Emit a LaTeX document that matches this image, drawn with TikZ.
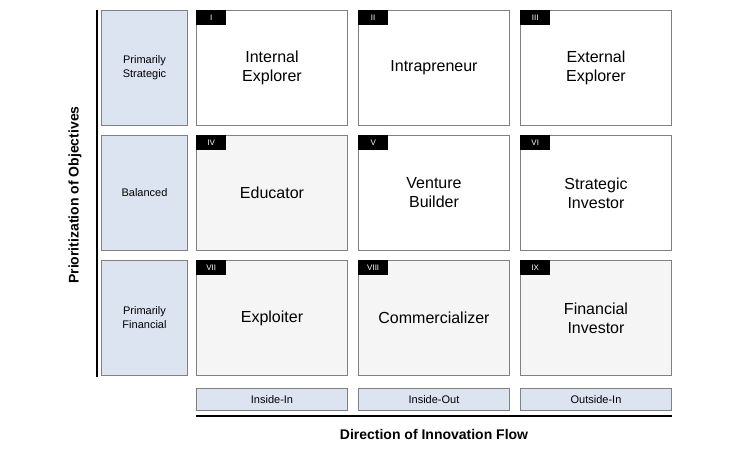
\documentclass[tikz,border=0pt]{standalone}
\usepackage{fontspec}
\setmainfont{Liberation Sans}
\begin{document}
\begin{tikzpicture}[x=1pt,y=-1pt,
 cell/.style={draw=black!50,line width=1pt,fill=white,minimum width=151pt,minimum height=115pt,anchor=north west,inner sep=0pt,font=\fontsize{16}{19}\selectfont,align=center},
 shaded/.style={cell,fill=black!4},
 lab/.style={draw=black!50,line width=1pt,fill=blue!20!black!3!white,fill={rgb,255:red,220;green,227;blue,241},anchor=north west,inner sep=0pt,align=center,font=\fontsize{11}{14}\selectfont},
 tag/.style={fill=black,text=white,anchor=north west,minimum width=30pt,minimum height=15pt,inner sep=0pt,font=\fontsize{8}{9}\selectfont}]
\useasboundingbox (0,0) rectangle (750,450);
\draw[line width=2pt] (97,10) coordinate (a1) -- (97,377) coordinate (a2);
\draw[line width=2pt] (196,416) coordinate (b1) -- (672,416) coordinate (b2);
\node[rotate=90,font=\bfseries\fontsize{14}{16}\selectfont] (ylab) at (75,195) {Prioritization of Objectives};
\node[font=\bfseries\fontsize{14}{16}\selectfont] (xlab) at (434,434) {Direction of Innovation Flow};
\node[lab,minimum width=86pt,minimum height=115pt] (r1) at (101,10) {Primarily\\Strategic};
\node[lab,minimum width=86pt,minimum height=115pt] (r2) at (101,135) {Balanced};
\node[lab,minimum width=86pt,minimum height=115pt] (r3) at (101,260) {Primarily\\Financial};
\node[lab,minimum width=151pt,minimum height=22pt] (c1) at (196,388) {Inside-In};
\node[lab,minimum width=151pt,minimum height=22pt] (c2) at (358,388) {Inside-Out};
\node[lab,minimum width=151pt,minimum height=22pt] (c3) at (520,388) {Outside-In};
\node[cell] (n1) at (196,10) {Internal\\Explorer};
\node[cell] (n2) at (358,10) {Intrapreneur};
\node[cell] (n3) at (520,10) {External\\Explorer};
\node[shaded] (n4) at (196,135) {Educator};
\node[cell] (n5) at (358,135) {Venture\\Builder};
\node[cell] (n6) at (520,135) {Strategic\\Investor};
\node[shaded] (n7) at (196,260) {Exploiter};
\node[shaded] (n8) at (358,260) {Commercializer};
\node[shaded] (n9) at (520,260) {Financial\\Investor};
\foreach \n/\t in {1/I,2/II,3/III,4/IV,5/V,6/VI,7/VII,8/VIII,9/IX}
  \node[tag] (t\n) at (n\n.north west) {\t};
\end{tikzpicture}
\end{document}
